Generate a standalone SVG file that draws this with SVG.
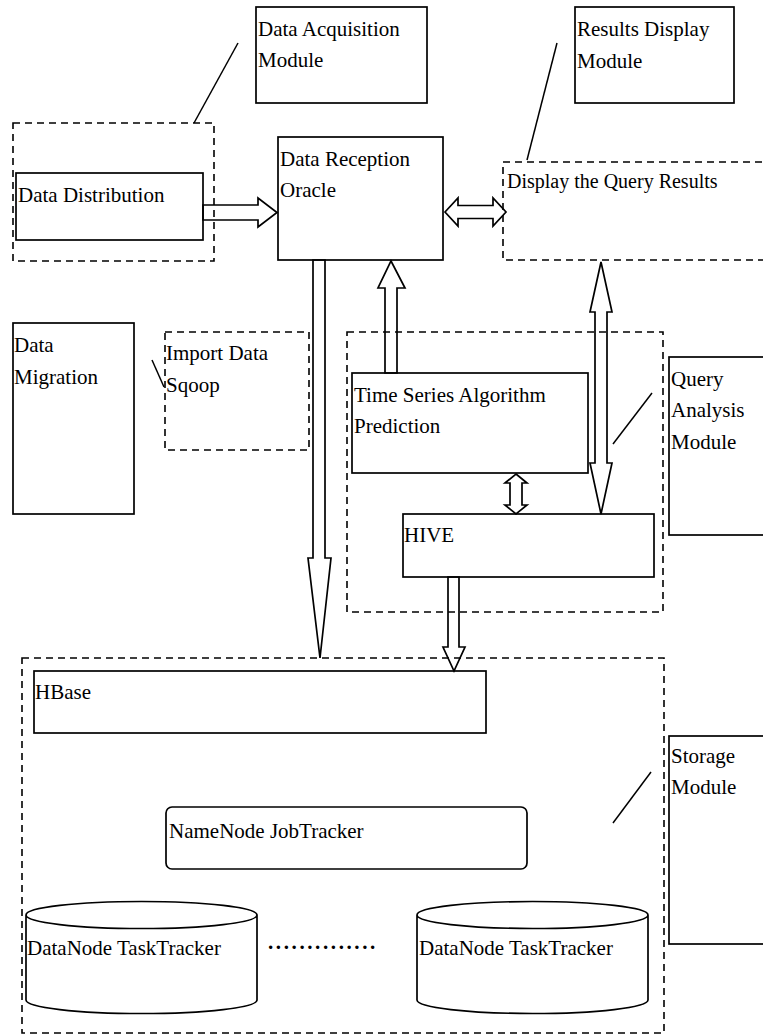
<svg xmlns="http://www.w3.org/2000/svg" width="763" height="1036" viewBox="0 0 763 1036">
<style>
.box{fill:none;stroke:#000;stroke-width:1.7}
.dash{fill:none;stroke:#000;stroke-width:1.6;stroke-dasharray:7 5}
.arr{fill:none;stroke:#000;stroke-width:1.7;stroke-linejoin:miter}
.ln{stroke:#000;stroke-width:1.5;fill:none}
text{font-family:"Liberation Serif","Times New Roman",serif;font-size:21px;fill:#000}
</style>
<rect width="763" height="1036" fill="#fff"/>

<g id="data-acquisition-module">
<rect class="box" x="256" y="7" width="171" height="96"/>
<text x="258" y="36">Data Acquisition</text>
<text x="258" y="67">Module</text>
</g>

<g id="data-distribution-group">
<rect class="dash" x="13" y="123" width="201" height="138"/>
</g>
<g id="data-distribution">
<rect class="box" x="16" y="173" width="187" height="67"/>
<text x="18" y="202">Data Distribution</text>
</g>

<g id="data-reception">
<rect class="box" x="278" y="137" width="165" height="123"/>
<text x="280" y="166">Data Reception</text>
<text x="280" y="197">Oracle</text>
</g>

<g id="results-display-module">
<rect class="box" x="575" y="7" width="159" height="96"/>
<text x="577" y="36">Results Display</text>
<text x="577" y="68">Module</text>
</g>

<g id="display-query-results">
<rect class="dash" x="503" y="162" width="280" height="98"/>
<text x="507" y="188" style="font-size:20px">Display the Query Results</text>
</g>

<g id="data-migration">
<rect class="box" x="13" y="323" width="121" height="191"/>
<text x="14" y="352">Data</text>
<text x="14" y="384">Migration</text>
</g>

<g id="import-data-sqoop">
<rect class="dash" x="165" y="332" width="144" height="118"/>
<text x="166" y="360">Import Data</text>
<text x="166" y="392">Sqoop</text>
</g>

<g id="query-analysis-group">
<rect class="dash" x="347" y="332" width="316" height="280"/>
</g>

<g id="time-series">
<rect class="box" x="352" y="373" width="236" height="100"/>
<text x="354" y="402">Time Series Algorithm</text>
<text x="354" y="433">Prediction</text>
</g>

<g id="hive">
<rect class="box" x="403" y="514" width="251" height="63"/>
<text x="404" y="542">HIVE</text>
</g>

<g id="query-analysis-module">
<rect class="box" x="669" y="357" width="110" height="178"/>
<text x="671" y="386">Query</text>
<text x="671" y="417">Analysis</text>
<text x="671" y="449">Module</text>
</g>

<g id="storage-group">
<rect class="dash" x="22" y="658" width="642" height="375"/>
</g>

<g id="hbase">
<rect class="box" x="34" y="671" width="452" height="62"/>
<text x="35" y="699">HBase</text>
</g>

<g id="namenode">
<rect class="box" x="166" y="807" width="361" height="62" rx="6" ry="6"/>
<text x="169" y="838">NameNode JobTracker</text>
</g>

<g id="datanode-1">
<path class="box" d="M26,915 A115.5,13.5 0 0 1 257,915 L257,1000 A115.5,13.5 0 0 1 26,1000 Z M26,915 A115.5,13.5 0 0 0 257,915"/>
<text x="27" y="955">DataNode TaskTracker</text>
</g>

<g id="datanode-2">
<path class="box" d="M417,915 A115.5,13.5 0 0 1 648,915 L648,1000 A115.5,13.5 0 0 1 417,1000 Z M417,915 A115.5,13.5 0 0 0 648,915"/>
<text x="419" y="955">DataNode TaskTracker</text>
</g>

<g id="ellipsis-dots">
<text x="268" y="949" style="font-weight:bold;letter-spacing:2.6px">..............</text>
</g>

<g id="storage-module">
<rect class="box" x="669" y="736" width="110" height="208"/>
<text x="671" y="763">Storage</text>
<text x="671" y="794">Module</text>
</g>

<g id="connectors">
<line class="ln" x1="238" y1="43" x2="194" y2="123"/>
<line class="ln" x1="557" y1="43" x2="527" y2="160"/>
<line class="ln" x1="152" y1="360" x2="164" y2="387"/>
<line class="ln" x1="652" y1="393" x2="613" y2="444"/>
<line class="ln" x1="651" y1="772" x2="613" y2="823"/>
<polygon class="arr" points="203,205 258,205 258,198 277,212.5 258,227 258,220 203,220"/>
<polygon class="arr" points="445,212 458,198 458,205.5 493,205.5 493,198 506,212 493,226 493,218.5 458,218.5 458,226"/>
<polygon class="arr" points="313,260 325,260 325,558 331,558 320,658 308,558 313,558"/>
<polygon class="arr" points="385,373 385,288 378,288 391,261 405,288 397,288 397,373"/>
<polygon class="arr" points="601,262 612,312 607,312 607,463 612,463 601,514 590,463 595,463 595,312 590,312"/>
<polygon class="arr" points="516,474 527,483 522,483 522,505 527,505 516,514 505,505 510,505 510,483 505,483"/>
<polygon class="arr" points="448,577 459,577 459,647 465,647 454,671 443,647 448,647"/>
</g>
</svg>
